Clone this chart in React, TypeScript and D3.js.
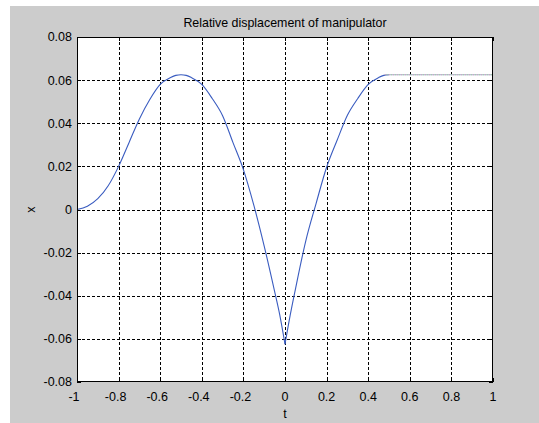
import React from "react";
import * as d3 from "d3";

// readings, t on the x axis, x (displacement) on the y axis
const tValues = [
  -1, -0.95, -0.9, -0.85, -0.8, -0.75, -0.7, -0.65, -0.6, -0.55, -0.525, -0.5,
  -0.475, -0.45, -0.4, -0.35, -0.3, -0.25, -0.2, -0.15, -0.1, -0.05, -0.025, 0,
  0.025, 0.05, 0.1, 0.15, 0.2, 0.25, 0.3, 0.35, 0.4, 0.45, 0.475, 0.5,
];
const xValues = [
  0, 0.0015, 0.005, 0.011, 0.02, 0.031, 0.042, 0.051, 0.058, 0.0612, 0.0622, 0.0625,
  0.0622, 0.0612, 0.058, 0.0515, 0.0435, 0.031, 0.0185, 0.002, -0.017, -0.038, -0.049, -0.0625,
  -0.049, -0.037, -0.0145, 0.003, 0.0196, 0.032, 0.0437, 0.0515, 0.058, 0.0612, 0.0622, 0.0625,
];
// held value after the motion ends
const holdT = [0.48, 1];
const holdX = [0.0625, 0.0625];

const xTicks = [-1, -0.8, -0.6, -0.4, -0.2, 0, 0.2, 0.4, 0.6, 0.8, 1];
const yTicks = [-0.08, -0.06, -0.04, -0.02, 0, 0.02, 0.04, 0.06, 0.08];

const title = "Relative displacement of manipulator";
const xLabel = "t";
const yLabel = "x";

const W = 539;
const H = 423;
const plot = { left: 77, right: 493, top: 37, bottom: 382 };
const font = "'Liberation Sans', Arial, sans-serif";

const fmt = (v: number) => (v === 0 ? "0" : String(+v.toFixed(2)));

const App = () => {
  const x = d3.scaleLinear().domain([-1, 1]).range([plot.left, plot.right]);
  const y = d3.scaleLinear().domain([-0.08, 0.08]).range([plot.bottom, plot.top]);

  // the curve has a cusp at t = 0, so it is drawn as two smooth pieces
  const cusp = tValues.indexOf(0);
  const pts = tValues.map((t, i) => [t, xValues[i]] as [number, number]);
  const line = d3
    .line<[number, number]>()
    .x((d) => x(d[0]))
    .y((d) => y(d[1]))
    .curve(d3.curveMonotoneX);
  const pieceA = line(pts.slice(0, cusp + 1)) || "";
  const pieceB = line(pts.slice(cusp)) || "";
  const hold = line(holdT.map((t, i) => [t, holdX[i]] as [number, number])) || "";

  const grid = { stroke: "#000", strokeWidth: 1, strokeDasharray: "3,2" };

  return (
    <svg
      width={W}
      height={H}
      style={{ position: "absolute", left: 0, top: 0 }}
      fontFamily={font}
    >
      <rect x={0} y={0} width={W} height={H} fill="#fff" />
      <rect x={10} y={6} width={W - 10} height={H - 6} fill="#cccccc" />
      <rect
        x={plot.left}
        y={plot.top}
        width={plot.right - plot.left}
        height={plot.bottom - plot.top}
        fill="#fff"
      />

      {/* grid */}
      {xTicks.slice(1, -1).map((t) => (
        <line
          key={"gx" + t}
          x1={Math.round(x(t)) + 0.5}
          x2={Math.round(x(t)) + 0.5}
          y1={plot.top}
          y2={plot.bottom}
          {...grid}
        />
      ))}
      {yTicks.slice(1, -1).map((v) => (
        <line
          key={"gy" + v}
          x1={plot.left}
          x2={plot.right}
          y1={Math.round(y(v)) + 0.5}
          y2={Math.round(y(v)) + 0.5}
          {...grid}
        />
      ))}

      {/* ticks */}
      {xTicks.map((t) => (
        <g key={"tx" + t} stroke="#000">
          <line x1={Math.round(x(t)) + 0.5} x2={Math.round(x(t)) + 0.5} y1={plot.bottom} y2={plot.bottom - 4} />
          <line x1={Math.round(x(t)) + 0.5} x2={Math.round(x(t)) + 0.5} y1={plot.top} y2={plot.top + 4} />
        </g>
      ))}
      {yTicks.map((v) => (
        <g key={"ty" + v} stroke="#000">
          <line x1={plot.left} x2={plot.left + 4} y1={Math.round(y(v)) + 0.5} y2={Math.round(y(v)) + 0.5} />
          <line x1={plot.right} x2={plot.right - 4} y1={Math.round(y(v)) + 0.5} y2={Math.round(y(v)) + 0.5} />
        </g>
      ))}

      {/* data */}
      <path d={pieceA} fill="none" stroke="#3a5cc0" strokeWidth={1.1} />
      <path d={pieceB} fill="none" stroke="#3a5cc0" strokeWidth={1.1} />
      <path d={hold} fill="none" stroke="#9fb2cf" strokeWidth={1.1} />
      <path d={hold} fill="none" stroke="#d49cb4" strokeWidth={1.1} strokeDasharray="1,3" />
      <path d={hold} fill="none" stroke="#a4c894" strokeWidth={1.1} strokeDasharray="1,3" strokeDashoffset={2} />

      {/* frame */}
      <rect
        x={plot.left + 0.5}
        y={plot.top + 0.5}
        width={plot.right - plot.left - 1}
        height={plot.bottom - plot.top - 1}
        fill="none"
        stroke="#000"
      />

      {/* tick labels */}
      {xTicks.map((t) => (
        <text
          key={"lx" + t}
          x={x(t)}
          dx={t < 0 ? -3 : 0}
          y={plot.bottom + 19}
          textAnchor="middle"
          fontSize={12.5}
          fill="#000"
        >
          {fmt(t)}
        </text>
      ))}
      {yTicks.map((v) => (
        <text
          key={"ly" + v}
          x={plot.left - 5}
          y={y(v)}
          dy="0.35em"
          textAnchor="end"
          fontSize={12.5}
          fill="#000"
        >
          {fmt(v)}
        </text>
      ))}

      <text x={(plot.left + plot.right) / 2} y={27} textAnchor="middle" fontSize={12.4} fill="#000">
        {title}
      </text>
      <text x={(plot.left + plot.right) / 2} y={418} textAnchor="middle" fontSize={12.5} fill="#000">
        {xLabel}
      </text>
      <text
        transform={`translate(35,${(plot.top + plot.bottom) / 2}) rotate(-90)`}
        textAnchor="middle"
        fontSize={12.5}
        fill="#000"
      >
        {yLabel}
      </text>
    </svg>
  );
};

export default App;
